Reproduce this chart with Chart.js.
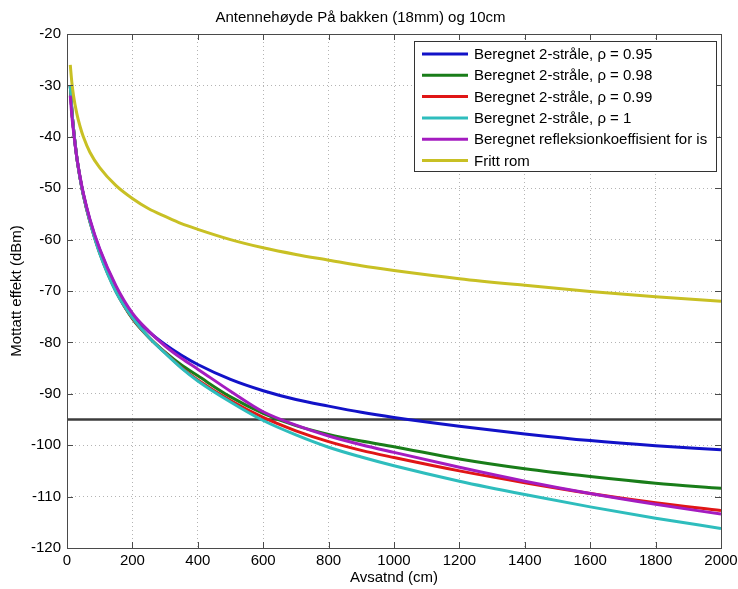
<!DOCTYPE html>
<html>
<head>
<meta charset="utf-8">
<script src="https://cdn.jsdelivr.net/npm/chart.js@4"></script>
<style>
html, body { margin: 0; padding: 0; background: #fff; }
#wrap { width: 738px; height: 589px; }
</style>
</head>
<body>
<div id="wrap"><canvas id="chart"></canvas></div>
<script>
// avstand i cm
const distance = [10, 15, 20, 30, 40, 50, 70, 100, 150, 200, 250, 300, 350, 400, 500, 600, 700, 800, 900, 1000, 1200, 1400, 1600, 1800, 2000]

// mottatt effekt i dBm
const rho095 = [-30, -35, -38.5, -44, -48, -51.2, -56.2, -62, -69.3, -74.6, -77.9, -80.4, -82.5, -84.3, -87.2, -89.4, -91.1, -92.4, -93.6, -94.6, -96.3, -97.8, -99.1, -100.1, -100.9]
const rho098 = [-30, -35, -38.5, -44, -48, -51.3, -56.4, -62.5, -69.9, -75.4, -79, -81.9, -84.4, -86.5, -90.6, -93.8, -96.2, -97.9, -99.2, -100.3, -102.7, -104.6, -106.1, -107.4, -108.4]
const rho099 = [-30, -35, -38.5, -44, -48, -51.3, -56.5, -62.6, -70.1, -75.3, -79, -82, -84.9, -87.3, -91.3, -94.6, -97.2, -99.3, -101, -102.4, -105, -107.3, -109.4, -111.2, -112.7]
const rho1   = [-30, -35, -38.5, -44, -48, -51.3, -56.5, -62.7, -70.2, -75.2, -79, -82.1, -85, -87.5, -91.6, -95.2, -98, -100.4, -102.3, -104, -107, -109.6, -112, -114.2, -116.2]
const ice    = [-32, -36, -39, -44, -47.8, -51, -56, -61.8, -69, -74.3, -77.8, -80.7, -83.1, -85.2, -89.5, -93.5, -96.1, -98.2, -99.9, -101.4, -104.3, -107, -109.4, -111.5, -113.4]
const freeSpace = [-26, -29.5, -32, -35.5, -38, -40, -43, -46, -49.5, -52, -54, -55.5, -56.9, -58, -60, -61.6, -62.9, -64, -65.1, -66, -67.6, -68.9, -70.1, -71.1, -72]

// mottakerfølsomhet
const limitX = [0, 2000]
const limitY = [-95, -95]

const xTicks = [0, 200, 400, 600, 800, 1000, 1200, 1400, 1600, 1800, 2000]
const yTicks = [-120, -110, -100, -90, -80, -70, -60, -50, -40, -30, -20]

const FONT = "'Liberation Sans', Arial, sans-serif"

function toPoints(xs, ys){
    return xs.map((x, i) => ({x: x, y: ys[i]}))
}

function line(label, color, xs, ys, order){
    return {
        label: label,
        data: toPoints(xs, ys),
        borderColor: color,
        backgroundColor: color,
        borderWidth: 3,
        pointRadius: 0,
        cubicInterpolationMode: 'monotone',
        order: order
    }
}

const limitLine = line('', '#3c3c3c', limitX, limitY, 10)
limitLine.inLegend = false
limitLine.borderWidth = 2.5

// ramme med innovervendte tick-streker
const boxPlugin = {
    id: 'box',
    afterDatasetsDraw(chart){
        const ctx = chart.ctx
        const a = chart.chartArea
        const xs = chart.scales.x
        const ys = chart.scales.y
        ctx.save()
        ctx.strokeStyle = '#4a4a4a'
        ctx.lineWidth = 1
        ctx.strokeRect(a.left + 0.5, a.top + 0.5, a.right - a.left, a.bottom - a.top)
        ctx.beginPath()
        for(const v of xTicks){
            const px = Math.round(xs.getPixelForValue(v)) + 0.5
            ctx.moveTo(px, a.bottom); ctx.lineTo(px, a.bottom - 6)
            ctx.moveTo(px, a.top); ctx.lineTo(px, a.top + 6)
        }
        for(const v of yTicks){
            const py = Math.round(ys.getPixelForValue(v)) + 0.5
            ctx.moveTo(a.left, py); ctx.lineTo(a.left + 6, py)
            ctx.moveTo(a.right, py); ctx.lineTo(a.right - 6, py)
        }
        ctx.stroke()
        ctx.restore()
    }
}

// forklaring inne i plottet, øverst til høyre
const legendPlugin = {
    id: 'boxLegend',
    afterDraw(chart){
        const ctx = chart.ctx
        const items = chart.data.datasets.filter(d => d.inLegend !== false)
        const x0 = 414, y0 = 41, w = 302, h = 130
        ctx.save()
        ctx.fillStyle = '#fff'
        ctx.fillRect(x0, y0, w, h)
        ctx.strokeStyle = '#333'
        ctx.lineWidth = 1
        ctx.strokeRect(x0 + 0.5, y0 + 0.5, w, h)
        ctx.font = '15px ' + FONT
        ctx.textBaseline = 'middle'
        items.forEach((d, i) => {
            const y = y0 + 13 + i * 21.3
            ctx.strokeStyle = d.borderColor
            ctx.lineWidth = 3
            ctx.beginPath()
            ctx.moveTo(x0 + 8, y)
            ctx.lineTo(x0 + 54, y)
            ctx.stroke()
            ctx.fillStyle = '#000'
            ctx.fillText(d.label, x0 + 60, y + 1)
        })
        ctx.restore()
    }
}

Chart.defaults.font.family = FONT
Chart.defaults.font.size = 15
Chart.defaults.color = '#000'

new Chart(document.getElementById('chart'), {
    type: 'line',
    data: {
        datasets: [
            line('Beregnet 2-stråle, \u03c1 = 0.95', '#1212c8', distance, rho095, 6),
            line('Beregnet 2-stråle, \u03c1 = 0.98', '#197d19', distance, rho098, 5),
            line('Beregnet 2-stråle, \u03c1 = 0.99', '#e01616', distance, rho099, 4),
            line('Beregnet 2-stråle, \u03c1 = 1', '#2ebdbd', distance, rho1, 3),
            line('Beregnet refleksionkoeffisient for is', '#a41cc0', distance, ice, 2),
            line('Fritt rom', '#c8c024', distance, freeSpace, 1),
            limitLine
        ]
    },
    options: {
        responsive: true,
        maintainAspectRatio: false,
        animation: false,
        layout: {
            padding: {left: 0, right: 17, top: 0, bottom: 0}
        },
        plugins: {
            legend: {display: false},
            tooltip: {enabled: false},
            title: {
                display: true,
                text: 'Antennehøyde På bakken (18mm) og 10cm',
                color: '#000',
                font: {size: 15, weight: 'normal'},
                padding: {top: 9, bottom: 7}
            }
        },
        scales: {
            x: {
                type: 'linear',
                min: 0,
                max: 2000,
                afterBuildTicks(s){ s.ticks = xTicks.map(v => ({value: v})) },
                afterFit(s){
                    s.height = 41
                    s.paddingLeft = 0
                    s.paddingRight = 0
                },
                ticks: {padding: 4, maxRotation: 0, callback: v => String(v)},
                grid: {color: '#b4b4b4', drawTicks: false, lineWidth: 1},
                border: {display: false, dash: [1, 3]},
                title: {display: true, text: 'Avsatnd (cm)', padding: {top: 0, bottom: 2}}
            },
            y: {
                type: 'linear',
                min: -120,
                max: -20,
                afterBuildTicks(s){ s.ticks = yTicks.map(v => ({value: v})) },
                afterFit(s){
                    s.width = 67
                    s.paddingTop = 0
                    s.paddingBottom = 0
                },
                ticks: {padding: 6, callback: v => String(v)},
                grid: {color: '#b4b4b4', drawTicks: false, lineWidth: 1},
                border: {display: false, dash: [1, 3]},
                title: {display: true, text: 'Mottatt effekt (dBm)', padding: {top: 8, bottom: 0}}
            }
        }
    },
    plugins: [boxPlugin, legendPlugin]
})
</script>
</body>
</html>
